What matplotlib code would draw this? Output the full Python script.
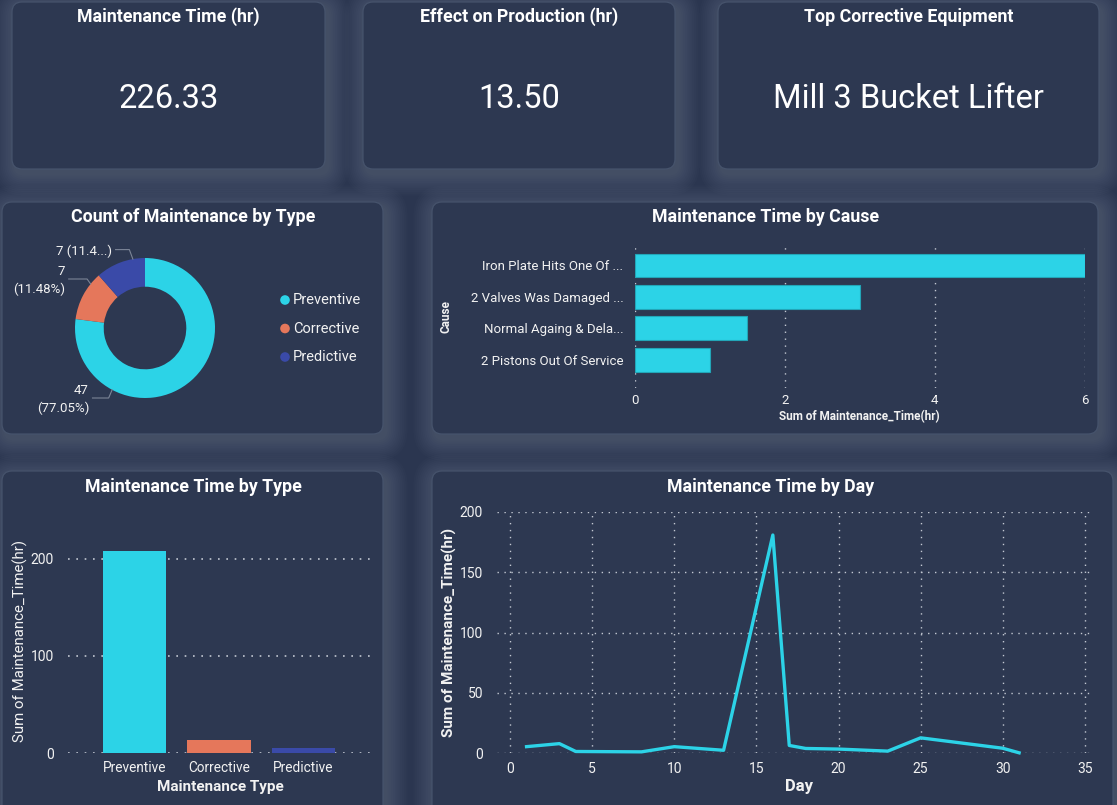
import math
import matplotlib
matplotlib.use("Agg")
import matplotlib.pyplot as plt
from matplotlib.patches import FancyBboxPatch

# -------------------------
# Data
# -------------------------
kpi_titles = ["Maintenance Time (hr)", "Effect on Production (hr)", "Top Corrective Equipment"]
kpi_values = ["226.33", "13.50", "Mill 3 Bucket Lifter"]

type_names = ["Preventive", "Corrective", "Predictive"]
type_counts = [47, 7, 7]
type_hours = [207.6, 13.5, 5.2]

causes = ["Iron Plate Hits One Of ...", "2 Valves Was Damaged ...",
          "Normal Againg & Dela...", "2 Pistons Out Of Service"]
cause_hours = [6.0, 3.0, 1.5, 1.0]

days = [1, 3, 4, 8, 10, 13, 16, 17, 18, 20, 23, 25, 30, 31]
day_hours = [5.5, 8.0, 1.5, 1.2, 5.5, 2.5, 180.7, 6.5, 4.0, 3.5, 1.8, 12.8, 4.2, 0.4]

# -------------------------
# Style
# -------------------------
W, H = 1117, 805
BG = "#2b3650"
CARD = "#2d3851"
EDGE = "#46536c"
GLOW = "#9aa3b5"
CYAN = "#2cd3e7"
ORANGE = "#e5775b"
BLUE = "#3a4aa8"
GRID = "#c3c8d2"
TXT = "#f2f2f2"
type_colors = [CYAN, ORANGE, BLUE]

plt.rcParams["font.family"] = ["Roboto", "DejaVu Sans"]

fig = plt.figure(figsize=(W / 100, H / 100), dpi=100, facecolor=BG)
bg = fig.add_axes([0, 0, 1, 1], zorder=-10)
bg.set_xlim(0, W)
bg.set_ylim(H, 0)
bg.axis("off")


def card(x0, y0, x1, y1):
    # soft light halo, a bit more to the lower right
    for i in range(12, 0, -1):
        p = i * 1.8
        bg.add_patch(FancyBboxPatch((x0 - p + 3, y0 - p + 5), x1 - x0 + 2 * p, y1 - y0 + 2 * p,
                                    boxstyle=f"round,pad=0,rounding_size={10 + p}",
                                    fc=GLOW, ec="none", alpha=0.024))
    bg.add_patch(FancyBboxPatch((x0, y0), x1 - x0, y1 - y0,
                                boxstyle="round,pad=0,rounding_size=10",
                                fc=CARD, ec=EDGE, lw=0.9))


def add_ax(box):
    x0, y0, x1, y1 = box
    a = fig.add_axes([x0 / W, 1 - y1 / H, (x1 - x0) / W, (y1 - y0) / H])
    a.set_facecolor("none")
    for s in a.spines.values():
        s.set_visible(False)
    return a


def title(x, y, s):
    bg.text(x, y, s, ha="center", va="center", color="white",
            fontsize=12.8, fontweight="bold")


# -------------------------
# KPI cards
# -------------------------
kpi_boxes = [(12, 2, 325, 169), (363, 2, 675, 169), (718, 2, 1099, 169)]
for box, t, v in zip(kpi_boxes, kpi_titles, kpi_values):
    card(*box)
    cx = (box[0] + box[2]) / 2
    title(cx, 17, t)
    bg.text(cx, 99, v, ha="center", va="center", color="white", fontsize=23.5)

# -------------------------
# Donut - Count of Maintenance by Type
# -------------------------
card(2, 202, 383, 434)
title(193, 217, "Count of Maintenance by Type")

axp = add_ax((45, 228, 245, 428))
axp.pie(type_counts, colors=type_colors, startangle=90, counterclock=False,
        radius=1, wedgeprops=dict(width=0.41, edgecolor="none"))
lim = 100 / 70
axp.set_xlim(-lim, lim)
axp.set_ylim(-lim, lim)
axp.axis("off")

# label layout: leader angle, text position, style
label_layout = {
    "Preventive": (242, -0.80, -1.02, "wrap"),
    "Corrective": (141, -1.14, 0.68, "wrap"),
    "Predictive": (100, -0.47, 1.10, "trunc"),
}
total = sum(type_counts)
for name, n in zip(type_names, type_counts):
    ang, tx, ty, mode = label_layout[name]
    pct = n / total * 100
    if mode == "wrap":
        s = f"{n}\n({pct:.2f}%)"
    else:
        s = f"{n} ({pct:.2f}%)"[:7] + "...)"
    axp.text(tx, ty, s, ha="right", va="center", color=TXT, fontsize=9.5,
             multialignment="right", linespacing=1.4, clip_on=False)
    px, py = math.cos(math.radians(ang)), math.sin(math.radians(ang))
    axp.plot([tx + 0.05, px - 0.05, px], [ty + 0.02, ty + 0.02, py],
             color="#7c8597", lw=0.8, clip_on=False)

for i, (name, c) in enumerate(zip(type_names, type_colors)):
    yy = 300 + i * 28.5
    bg.scatter([285], [yy], s=48, color=c, edgecolors="none")
    bg.text(293, yy, name, ha="left", va="center", color=TXT, fontsize=10.5)

# -------------------------
# Maintenance Time by Cause
# -------------------------
card(432, 202, 1098, 434)
title(766, 217, "Maintenance Time by Cause")

cbox = (634.5, 245, 1085, 388)
axc = add_ax(cbox)
ypos = list(range(len(causes)))
axc.barh(ypos, cause_hours, height=0.76, color=CYAN, edgecolor="#22a6b8", lw=0.8, zorder=3)
axc.set_xlim(0, 6)
axc.set_ylim(3.89, -0.65)
axc.set_xticks([0, 2, 4, 6])
axc.set_yticks(ypos)
axc.set_yticklabels(causes)
axc.grid(axis="x", color=GRID, linestyle=(0, (1, 4)), lw=1.0, zorder=0)
axc.tick_params(axis="x", length=0, pad=4, colors=TXT, labelsize=9.5)
axc.tick_params(axis="y", length=0, pad=8, colors=TXT, labelsize=9.5)
axc.set_xlabel("Sum of Maintenance_Time(hr)", color=TXT, fontsize=8.5, fontweight="bold")
axc.xaxis.set_label_coords(0.5, (cbox[3] - 410) / (cbox[3] - cbox[1]))
axc.set_ylabel("Cause", color=TXT, fontsize=8.5, fontweight="bold")
axc.yaxis.set_label_coords((453 - cbox[0]) / (cbox[2] - cbox[0]), 0.5)

# -------------------------
# Maintenance Time by Type
# -------------------------
card(2, 471, 383, 815)
title(193, 487, "Maintenance Time by Type")

tbox = (68, 520, 372, 753)
axt = add_ax(tbox)
xpos = list(range(len(type_names)))
axt.bar(xpos, type_hours, width=0.75, color=type_colors, zorder=3)
axt.set_xlim(-0.79, 2.81)
axt.set_ylim(0, 240)
axt.set_yticks([0, 100, 200])
axt.set_xticks(xpos)
axt.set_xticklabels(type_names)
axt.grid(axis="y", color=GRID, linestyle=(0, (1, 4)), lw=1.2, zorder=0)
axt.tick_params(axis="x", length=0, pad=6, colors=TXT, labelsize=9.8)
axt.tick_params(axis="y", length=0, pad=10, colors=TXT, labelsize=10)
axt.set_xlabel("Maintenance Type", color=TXT, fontsize=11, fontweight="bold")
axt.xaxis.set_label_coords((220 - tbox[0]) / (tbox[2] - tbox[0]), (tbox[3] - 780) / (tbox[3] - tbox[1]))
axt.set_ylabel("Sum of Maintenance_Time(hr)", color=TXT, fontsize=10.8)
axt.yaxis.set_label_coords((28 - tbox[0]) / (tbox[2] - tbox[0]), (753 - 641) / (tbox[3] - tbox[1]))

# -------------------------
# Maintenance Time by Day
# -------------------------
card(432, 471, 1113, 815)
title(771, 487, "Maintenance Time by Day")

dbox = (497, 511.7, 1093, 753.3)
axd = add_ax(dbox)
axd.plot(days, day_hours, color=CYAN, lw=2.4, clip_on=False, zorder=3)
axd.set_xlim(-0.8, 35.5)
axd.set_ylim(0, 200)
axd.set_xticks(range(0, 36, 5))
axd.set_yticks(range(0, 201, 50))
axd.grid(True, color=GRID, linestyle=(0, (1, 4)), lw=1.0, zorder=0)
axd.tick_params(axis="x", length=0, pad=6, colors=TXT, labelsize=10)
axd.tick_params(axis="y", length=0, pad=10, colors=TXT, labelsize=10)
axd.set_xlabel("Day", color=TXT, fontsize=12, fontweight="bold")
axd.xaxis.set_label_coords((799 - dbox[0]) / (dbox[2] - dbox[0]), (dbox[3] - 779) / (dbox[3] - dbox[1]))
axd.set_ylabel("Sum of Maintenance_Time(hr)", color=TXT, fontsize=11, fontweight="bold")
axd.yaxis.set_label_coords((457 - dbox[0]) / (dbox[2] - dbox[0]), 0.5)

fig.savefig("out.png", dpi=100, facecolor=BG)
